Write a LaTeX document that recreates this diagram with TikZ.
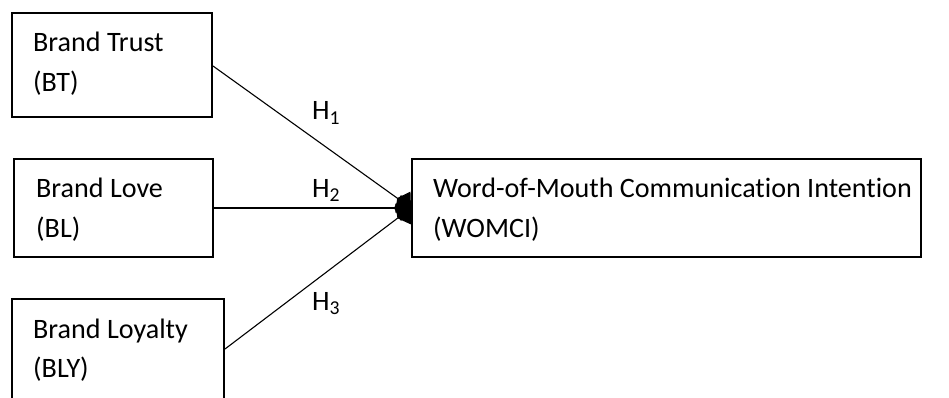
\documentclass[tikz,border=0pt]{standalone}
\usepackage{fontspec}
\setmainfont{Carlito}[Ligatures=NoCommon]
\usetikzlibrary{arrows.meta}
\begin{document}
\begin{tikzpicture}[x=1pt,y=-1pt,
  box/.style={draw,line width=2pt,minimum width=#1,inner sep=0pt},
  lbl/.style={anchor=base west,inner sep=0pt,font=\fontsize{28.1}{40}\selectfont,align=left},
  conn/.style={line width=1.1pt,-{Kite[length=17pt,width=26pt,inset=7pt]}}]
\useasboundingbox (0,0) rectangle (949,398);
\clip (0,0) rectangle (949,398);
\fill[white] (0,0) rectangle (949,398);
\node[box=200pt,minimum height=104pt] (bt) at (112,65) {};
\node[box=199pt,minimum height=98pt] (bl) at (113.5,208) {};
\node[box=212pt,minimum height=104pt] (bly) at (118,351) {};
\node[box=509pt,minimum height=98pt] (womci) at (666.5,208) {};
\node[lbl] (btt) at (33,52) {Brand Trust};
\node[lbl] (btt2) at (33,92) {(BT)};
\node[lbl] (blt) at (36,197) {Brand Love};
\node[lbl] (blt2) at (36,237) {(BL)};
\node[lbl] (blyt) at (33,338) {Brand Loyalty};
\node[lbl] (blyt2) at (33,377) {(BLY)};
\node[lbl] (wt) at (433,197) {Word-of-Mouth Communication Intention};
\node[lbl] (wt2) at (433,237) {(WOMCI)};
\node[lbl] (h1) at (312,120) {H\textsubscript{1}};
\node[lbl] (h2) at (312,197) {H\textsubscript{2}};
\node[lbl] (h3) at (312,310) {H\textsubscript{3}};
\draw[conn] ([yshift=-1pt]bt.east) -- (womci.west);
\draw[conn] (bl.east) -- (womci.west);
\draw[conn] ([yshift=2pt]bly.east) -- (womci.west);
\end{tikzpicture}
\end{document}
